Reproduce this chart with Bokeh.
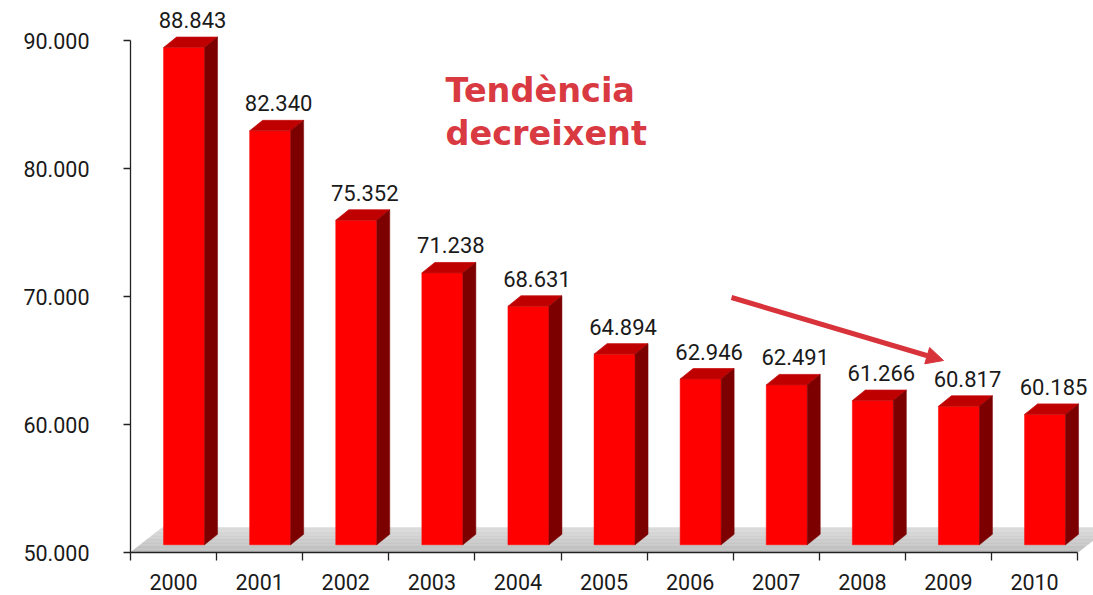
from bokeh.plotting import figure
from bokeh.models import Range1d, FixedTicker, Arrow, NormalHead
from bokeh.core.properties import value
from bokeh.embed import file_html
from bokeh.resources import INLINE

# ---------------- data ----------------
years = ["2000", "2001", "2002", "2003", "2004", "2005",
         "2006", "2007", "2008", "2009", "2010"]
values = [88843, 82340, 75352, 71238, 68631, 64894,
          62946, 62491, 61266, 60817, 60185]
y_ticks = [50000, 60000, 70000, 80000, 90000]
title_lines = ["Tendència", "decreixent"]

# ---------------- geometry (pixels -> data units) ----------------
Y0 = 50000
PX_PER_CAT = 86.1          # horizontal pixels per category
PX_PER_UNIT = 0.0128       # vertical pixels per data unit
W, H = 1093, 595
LEFT, TOP, BOTTOM = 130, 8, 43
FRAME_H = H - TOP - BOTTOM
AXIS_Y = TOP + FRAME_H      # page y of the x axis line


def dx(px):
    return px / PX_PER_CAT


def dy(px):
    return px / PX_PER_UNIT


def px_x(page_x):
    return dx(page_x - LEFT)


def px_y(page_y):
    return Y0 + dy(AXIS_Y - page_y)


x_end = (W - LEFT) / PX_PER_CAT
y_end = Y0 + dy(FRAME_H)

p = figure(width=W, height=H, output_backend="svg", toolbar_location=None,
           x_range=Range1d(0, x_end), y_range=Range1d(Y0, y_end),
           min_border_left=LEFT, min_border_right=0, min_border_top=TOP,
           min_border_bottom=BOTTOM)
p.outline_line_color = None
p.xgrid.visible = False
p.ygrid.visible = False
p.background_fill_color = "white"
p.border_fill_color = "white"

n = len(years)

# ---------------- floor (gradient gray) ----------------
floor_dx, floor_dy = dx(32), dy(25)
bands = 18
fxs, fys, fcols = [], [], []
c_front = (0xbc, 0xbc, 0xbc)
c_back = (0xdc, 0xdc, 0xdc)
for k in range(bands):
    t0, t1 = k / bands, (k + 1) / bands
    fxs.append([floor_dx * t0, n + floor_dx * t0, n + floor_dx * t1, floor_dx * t1])
    fys.append([Y0 + floor_dy * t0, Y0 + floor_dy * t0, Y0 + floor_dy * t1, Y0 + floor_dy * t1])
    tm = (t0 + t1) / 2
    col = tuple(int(round(a + (b - a) * tm)) for a, b in zip(c_front, c_back))
    fcols.append("#%02x%02x%02x" % col)
p.patches(fxs, fys, fill_color=fcols, line_color=fcols, line_width=0.5)

# ---------------- 3D bars ----------------
shift_x, shift_y = dx(10.5), dy(7.7)
half_w = dx(20.5)
depth_x, depth_y = dx(13), dy(10.5)

lefts, rights, bottoms, tops = [], [], [], []
top_xs, top_ys, side_xs, side_ys = [], [], [], []
lab_x, lab_y, lab_t = [], [], []
for i, v in enumerate(values):
    c = i + 0.5
    L = c + shift_x - half_w
    R = c + shift_x + half_w
    B = Y0 + shift_y
    T = v + shift_y
    lefts.append(L); rights.append(R); bottoms.append(B); tops.append(T)
    top_xs.append([L, R, R + depth_x, L + depth_x])
    top_ys.append([T, T, T + depth_y, T + depth_y])
    side_xs.append([R, R + depth_x, R + depth_x, R])
    side_ys.append([B, B + depth_y, T + depth_y, T])
    lab_x.append(c + dx(19))
    lab_y.append(T + depth_y + dy(17))
    lab_t.append(f"{v:,}".replace(",", "."))

p.quad(left=lefts, right=rights, bottom=bottoms, top=tops,
       fill_color="#ff0000", line_color="#ff0000", line_width=0.5)
p.patches(top_xs, top_ys, fill_color="#bf0000", line_color="#c81010", line_width=0.8)
p.patches(side_xs, side_ys, fill_color="#7c0000", line_color="#7c0000", line_width=0.5)

p.text(x=lab_x, y=lab_y, text=lab_t, text_align="center", text_baseline="middle",
       text_font=value("Roboto"), text_font_size="22px", text_color="#1a1a1a")

# ---------------- annotation: title + arrow ----------------
tx = px_x(445)
p.text(x=[tx, tx], y=[px_y(90), px_y(133)], text=title_lines,
       text_align="left", text_baseline="middle",
       text_font=value("DejaVu Sans"), text_font_style="bold",
       text_font_size="33.5px", text_color="#d93a42")

arrow_col = "#d8333b"
p.add_layout(Arrow(end=NormalHead(size=17, fill_color=arrow_col, line_color=arrow_col),
                   x_start=px_x(731), y_start=px_y(297),
                   x_end=px_x(943), y_end=px_y(360),
                   line_color=arrow_col, line_width=5))

# ---------------- axes ----------------
xa = p.xaxis[0]
xa.ticker = FixedTicker(ticks=[i + 0.5 for i in range(n)], minor_ticks=list(range(n + 1)))
xa.major_label_overrides = {i + 0.5: y for i, y in enumerate(years)}
xa.major_tick_out = 0
xa.major_tick_in = 0
xa.minor_tick_out = 8
xa.minor_tick_in = 0
xa.bounds = (0, n)
xa.axis_line_color = "#222222"
xa.axis_line_width = 1.3
xa.minor_tick_line_color = "#222222"
xa.minor_tick_line_width = 1.3
xa.major_label_standoff = 13
xa.major_label_text_font = "Roboto"
xa.major_label_text_font_size = "21.5px"
xa.major_label_text_color = "#1a1a1a"

ya = p.yaxis[0]
ya.ticker = FixedTicker(ticks=y_ticks, minor_ticks=[])
ya.major_label_overrides = {t: f"{t:,}".replace(",", ".") for t in y_ticks}
ya.bounds = (y_ticks[0], y_ticks[-1])
ya.major_tick_out = 7
ya.major_tick_in = 0
ya.minor_tick_out = 0
ya.minor_tick_in = 0
ya.axis_line_color = "#222222"
ya.axis_line_width = 1.3
ya.major_tick_line_color = "#222222"
ya.major_tick_line_width = 1.3
ya.major_label_standoff = 34
ya.major_label_text_font = "Roboto"
ya.major_label_text_font_size = "21.5px"
ya.major_label_text_color = "#1a1a1a"

open("out.html", "w").write(file_html(p, INLINE))
